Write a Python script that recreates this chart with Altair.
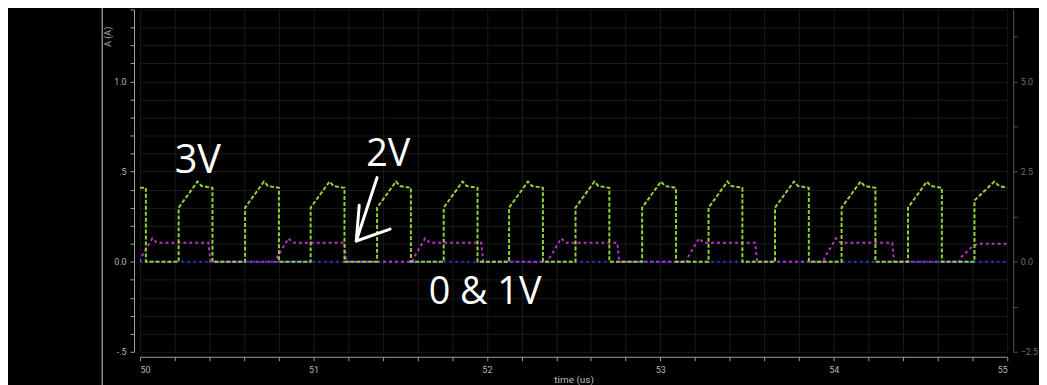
import altair as alt
import pandas as pd

# ---------------- data ----------------
# 3V trace (green), current in A, time in us
green_rise = [50.223, 50.606, 50.984, 51.367, 51.751, 52.128, 52.511,
              52.895, 53.278, 53.661, 54.045, 54.428]
green_shape_dt = [0.0, 0.0, 0.109, 0.132, 0.195, 0.195]
green_shape_a = [0.0, 0.30, 0.445, 0.42, 0.41, 0.0]
green_head_t = [50.0, 50.034, 50.034]
green_head_a = [0.41, 0.41, 0.0]
green_tail_t = [54.811, 54.811, 54.926, 54.954, 55.0]
green_tail_a = [0.0, 0.34, 0.445, 0.42, 0.41]

# 2V trace (magenta)
mag_start = [50.0, 50.784, 51.573, 52.357, 53.152, 53.942]
mag_shape_dt = [0.0, 0.004, 0.0715, 0.097, 0.395, 0.406]
mag_shape_a = [0.0, 0.02, 0.13, 0.105, 0.105, 0.0]
mag_tail_t = [54.725, 54.729, 54.800, 54.829, 55.0]
mag_tail_a = [0.0, 0.02, 0.085, 0.10, 0.10]

# 0 V & 1 V trace (blue)
blue_t = [50.0, 55.0]
blue_a = [0.0, 0.0]

# hand-written annotations
note_text = ["3V", "2V", "0 & 1V"]
note_t = [50.200, 51.304, 51.665]
note_a = [0.4945, 0.533, -0.236]
note_size = [40, 38, 38]

arrow_t = [51.367, 51.247, 51.264, 51.247, 51.442]
arrow_a = [0.467, 0.115, 0.313, 0.115, 0.181]
arrow_part = ["shaft", "shaft", "head", "head", "head"]

x_ticks = [round(50 + 0.2 * i, 1) for i in range(26)]
y_ticks = [round(-0.5 + 0.1 * i, 1) for i in range(20)]
y2_ticks = [-0.5, -0.25, 0.0, 0.25, 0.5, 0.75, 1.0, 1.25]   # right axis = 5x left

# ---------------- build tables ----------------
def build(ts, vs):
    return pd.DataFrame({"t": ts, "A": vs, "i": list(range(len(ts)))})

gt, ga = list(green_head_t), list(green_head_a)
for r in green_rise:
    gt += [r + d for d in green_shape_dt]
    ga += list(green_shape_a)
gt += green_tail_t
ga += green_tail_a
green_df = build(gt, ga)

mt, ma = [], []
for s in mag_start:
    mt += [s + d for d in mag_shape_dt]
    ma += list(mag_shape_a)
mt += mag_tail_t
ma += mag_tail_a
mag_df = build(mt, ma)

blue_df = build(blue_t, blue_a)
note_df = pd.DataFrame({"label": note_text, "t": note_t, "A": note_a, "size": note_size})
arrow_df = pd.DataFrame({"t": arrow_t, "A": arrow_a, "part": arrow_part,
                         "i": list(range(len(arrow_t)))})

W, H = 874, 345
xscale = alt.Scale(domain=[50, 55], nice=False, zero=False)
yscale = alt.Scale(domain=[-0.5, 1.40], nice=False, zero=False)
FONT = "Roboto"

x_axis = alt.Axis(
    values=x_ticks, orient="bottom",
    labelExpr="abs(datum.value - round(datum.value)) < 0.01 ? format(datum.value, 'd') : ''",
    title="time (us)", titleColor="#bdbdbd", titleFontSize=10, titleFontWeight="normal",
    titleFont=FONT, titlePadding=0,
    labelColor="#b5b5b5", labelFontSize=9, labelFont=FONT, labelPadding=5,
    domainColor="#a0a0a0", tickColor="#a0a0a0", tickSize=4, offset=5,
    gridColor="#1a1a1a", grid=True,
)
y_axis = alt.Axis(
    values=y_ticks, orient="left",
    labelExpr="datum.value == 1 ? '1.0' : datum.value == 0.5 ? '.5' : datum.value == 0 ? '0.0' : datum.value == -0.5 ? '-.5' : ''",
    title="A (A)", titleColor="#a8a8a8", titleFontSize=9, titleFontWeight="normal",
    titleFont=FONT, titleX=-27, titleY=27, titleAngle=270, titleAlign="center",
    titleBaseline="middle",
    labelColor="#b5b5b5", labelFontSize=9, labelFont=FONT, labelPadding=4,
    domainColor="#a0a0a0", tickColor="#a0a0a0", tickSize=4, offset=6,
    gridColor="#1a1a1a", grid=True,
)
y2_axis = alt.Axis(
    orient="right", values=y2_ticks,
    labelExpr="abs(datum.value * 2 - round(datum.value * 2)) < 0.01 ? format(datum.value * 5, '.1f') : ''",
    title=None, grid=False, offset=6, tickSize=4,
    labelColor="#6e6e6e", labelFontSize=9, labelFont=FONT, labelPadding=3,
    domainColor="#555555", tickColor="#555555",
)

def xenc(axis=None):
    return alt.X("t:Q", scale=xscale, axis=axis)

def yenc(axis=None):
    return alt.Y("A:Q", scale=yscale, axis=axis)

blue = alt.Chart(blue_df).mark_line(
    color="#2b3fff", strokeWidth=2, strokeDash=[2, 4], clip=True
).encode(x=xenc(x_axis), y=yenc(y_axis), order="i:Q")

magenta = alt.Chart(mag_df).mark_line(
    color="#b035c4", strokeWidth=2, strokeDash=[3, 3], clip=True
).encode(x=xenc(), y=yenc(), order="i:Q")

green = alt.Chart(green_df).mark_line(
    color="#92d13c", strokeWidth=2, strokeDash=[4, 2], clip=True
).encode(x=xenc(), y=yenc(), order="i:Q")

notes = alt.Chart(note_df).mark_text(
    color="white", font="Open Sans", align="left", baseline="alphabetic"
).encode(x=xenc(), y=yenc(), text="label:N",
         size=alt.Size("size:Q", scale=None, legend=None))

arrow = alt.Chart(arrow_df).mark_line(
    color="white", strokeWidth=3, strokeCap="round", strokeJoin="round"
).encode(x=xenc(), y=yenc(), detail="part:N", order="i:Q")

right = alt.Chart(blue_df).mark_point(opacity=0).encode(
    x=xenc(), y=yenc(y2_axis)
)

one = pd.DataFrame({"k": [0]})
frame = alt.Chart(one).mark_rule(color="#8a8a8a", strokeWidth=1.5).encode(
    x=alt.value(-38), y=alt.value(-8), y2=alt.value(380)
)

chart = alt.layer(blue, magenta, green, arrow, notes, right, frame).resolve_axis(
    x="independent", y="independent"
).properties(
    width=W, height=H,
    padding={"left": 133, "top": 0, "right": 32, "bottom": 32},
    autosize=alt.AutoSizeParams(type="none"),
).configure(background="#000000").configure_view(stroke=None)

chart.save("out.html", embed_options={"renderer": "svg", "actions": False})
